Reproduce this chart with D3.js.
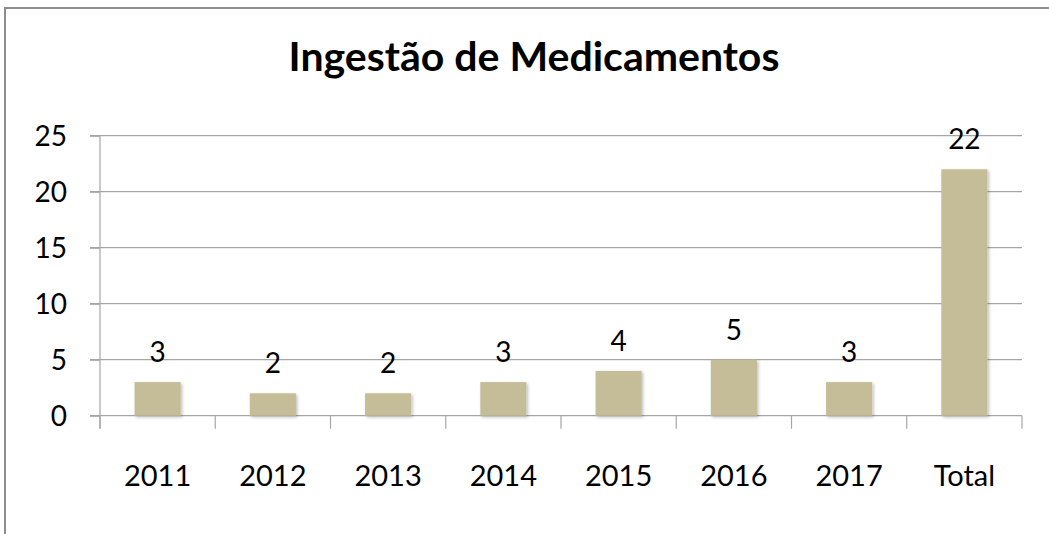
<!DOCTYPE html>
<html>
<head>
<meta charset="utf-8">
<script src="https://cdn.jsdelivr.net/npm/d3@7"></script>
<style>
  body { margin: 0; background: #fff; }
  text { font-family: Lato, "Open Sans", sans-serif; fill: #000; }
</style>
</head>
<body>
<div id="chart"></div>
<script>
// Chart data
const categories = ["2011", "2012", "2013", "2014", "2015", "2016", "2017", "Total"];
const values = [3, 2, 2, 3, 4, 5, 3, 22];
const yTicks = [0, 5, 10, 15, 20, 25];
const title = "Ingestão de Medicamentos";

const W = 1049, H = 534;
const plot = {left: 100, right: 1022, top: 135.7, bottom: 415.7};

const svg = d3.select("#chart")
    .append("svg")
    .attr("width", W)
    .attr("height", H);

// soft shadow on bars
const defs = svg.append("defs");
const f = defs.append("filter").attr("id", "shadow")
    .attr("x", "-20%").attr("y", "-20%").attr("width", "140%").attr("height", "140%");
f.append("feDropShadow")
    .attr("dx", 1.5).attr("dy", 1.5)
    .attr("stdDeviation", 1.5)
    .attr("flood-color", "#000")
    .attr("flood-opacity", 0.25);

// chart border (only top and left edges fall inside the view)
svg.append("rect")
    .attr("x", 5).attr("y", 8)
    .attr("width", W + 10).attr("height", H + 10)
    .attr("fill", "none")
    .attr("stroke", "#8c8c8c")
    .attr("stroke-width", 2);

// title
svg.append("text")
    .attr("x", 534)
    .attr("y", 71)
    .attr("text-anchor", "middle")
    .style("font-size", "41px")
    .style("font-weight", "bold")
    .text(title);

// scales
const x = d3.scaleBand()
    .domain(categories)
    .range([plot.left, plot.right]);

const y = d3.scaleLinear()
    .domain([0, 25])
    .range([plot.bottom, plot.top]);

// gridlines
svg.append("g")
    .selectAll("line")
    .data(yTicks.filter(d => d > 0))
    .enter().append("line")
    .attr("x1", plot.left - 10)
    .attr("x2", plot.right)
    .attr("y1", d => y(d))
    .attr("y2", d => y(d))
    .attr("stroke", "#a6a6a6")
    .attr("stroke-width", 1.2);

// y axis
const yAxis = svg.append("g")
    .attr("transform", `translate(${plot.left},0)`)
    .call(d3.axisLeft(y).tickValues(yTicks).tickSize(10).tickPadding(23));
yAxis.select(".domain").attr("stroke", "#a6a6a6").attr("stroke-width", 1.2)
    .attr("d", `M0,${plot.top}V${plot.bottom + 13}`);
yAxis.selectAll(".tick line").attr("stroke", "#a6a6a6").attr("stroke-width", 1.2);
yAxis.selectAll(".tick text")
    .style("font-size", "28px")
    .style("font-family", "Lato, 'Open Sans', sans-serif")
    .attr("fill", "#000")
    .attr("dy", "0.36em");

// x axis baseline and category boundary ticks
svg.append("line")
    .attr("x1", plot.left - 10).attr("x2", plot.right)
    .attr("y1", y(0)).attr("y2", y(0))
    .attr("stroke", "#a6a6a6").attr("stroke-width", 1.2);

const bounds = categories.map(c => x(c)).concat([plot.right]);
svg.append("g")
    .selectAll("line")
    .data(bounds)
    .enter().append("line")
    .attr("x1", d => d).attr("x2", d => d)
    .attr("y1", y(0)).attr("y2", y(0) + 13)
    .attr("stroke", "#a6a6a6").attr("stroke-width", 1.2);

// category labels
svg.append("g")
    .selectAll("text")
    .data(categories)
    .enter().append("text")
    .attr("x", d => x(d) + x.bandwidth() / 2)
    .attr("y", 486)
    .attr("text-anchor", "middle")
    .style("font-size", "29px")
    .text(d => d);

// bars
const barW = x.bandwidth() * 0.4;
svg.append("g")
    .selectAll("rect")
    .data(values)
    .enter().append("rect")
    .attr("x", (d, i) => x(categories[i]) + (x.bandwidth() - barW) / 2)
    .attr("y", d => y(d))
    .attr("width", barW)
    .attr("height", d => y(0) - y(d))
    .attr("fill", "#c4bd97")
    .attr("filter", "url(#shadow)");

// value labels
svg.append("g")
    .selectAll("text")
    .data(values)
    .enter().append("text")
    .attr("x", (d, i) => x(categories[i]) + x.bandwidth() / 2)
    .attr("y", d => y(d) - 20)
    .attr("text-anchor", "middle")
    .style("font-size", "28px")
    .text(d => d);
</script>
</body>
</html>
